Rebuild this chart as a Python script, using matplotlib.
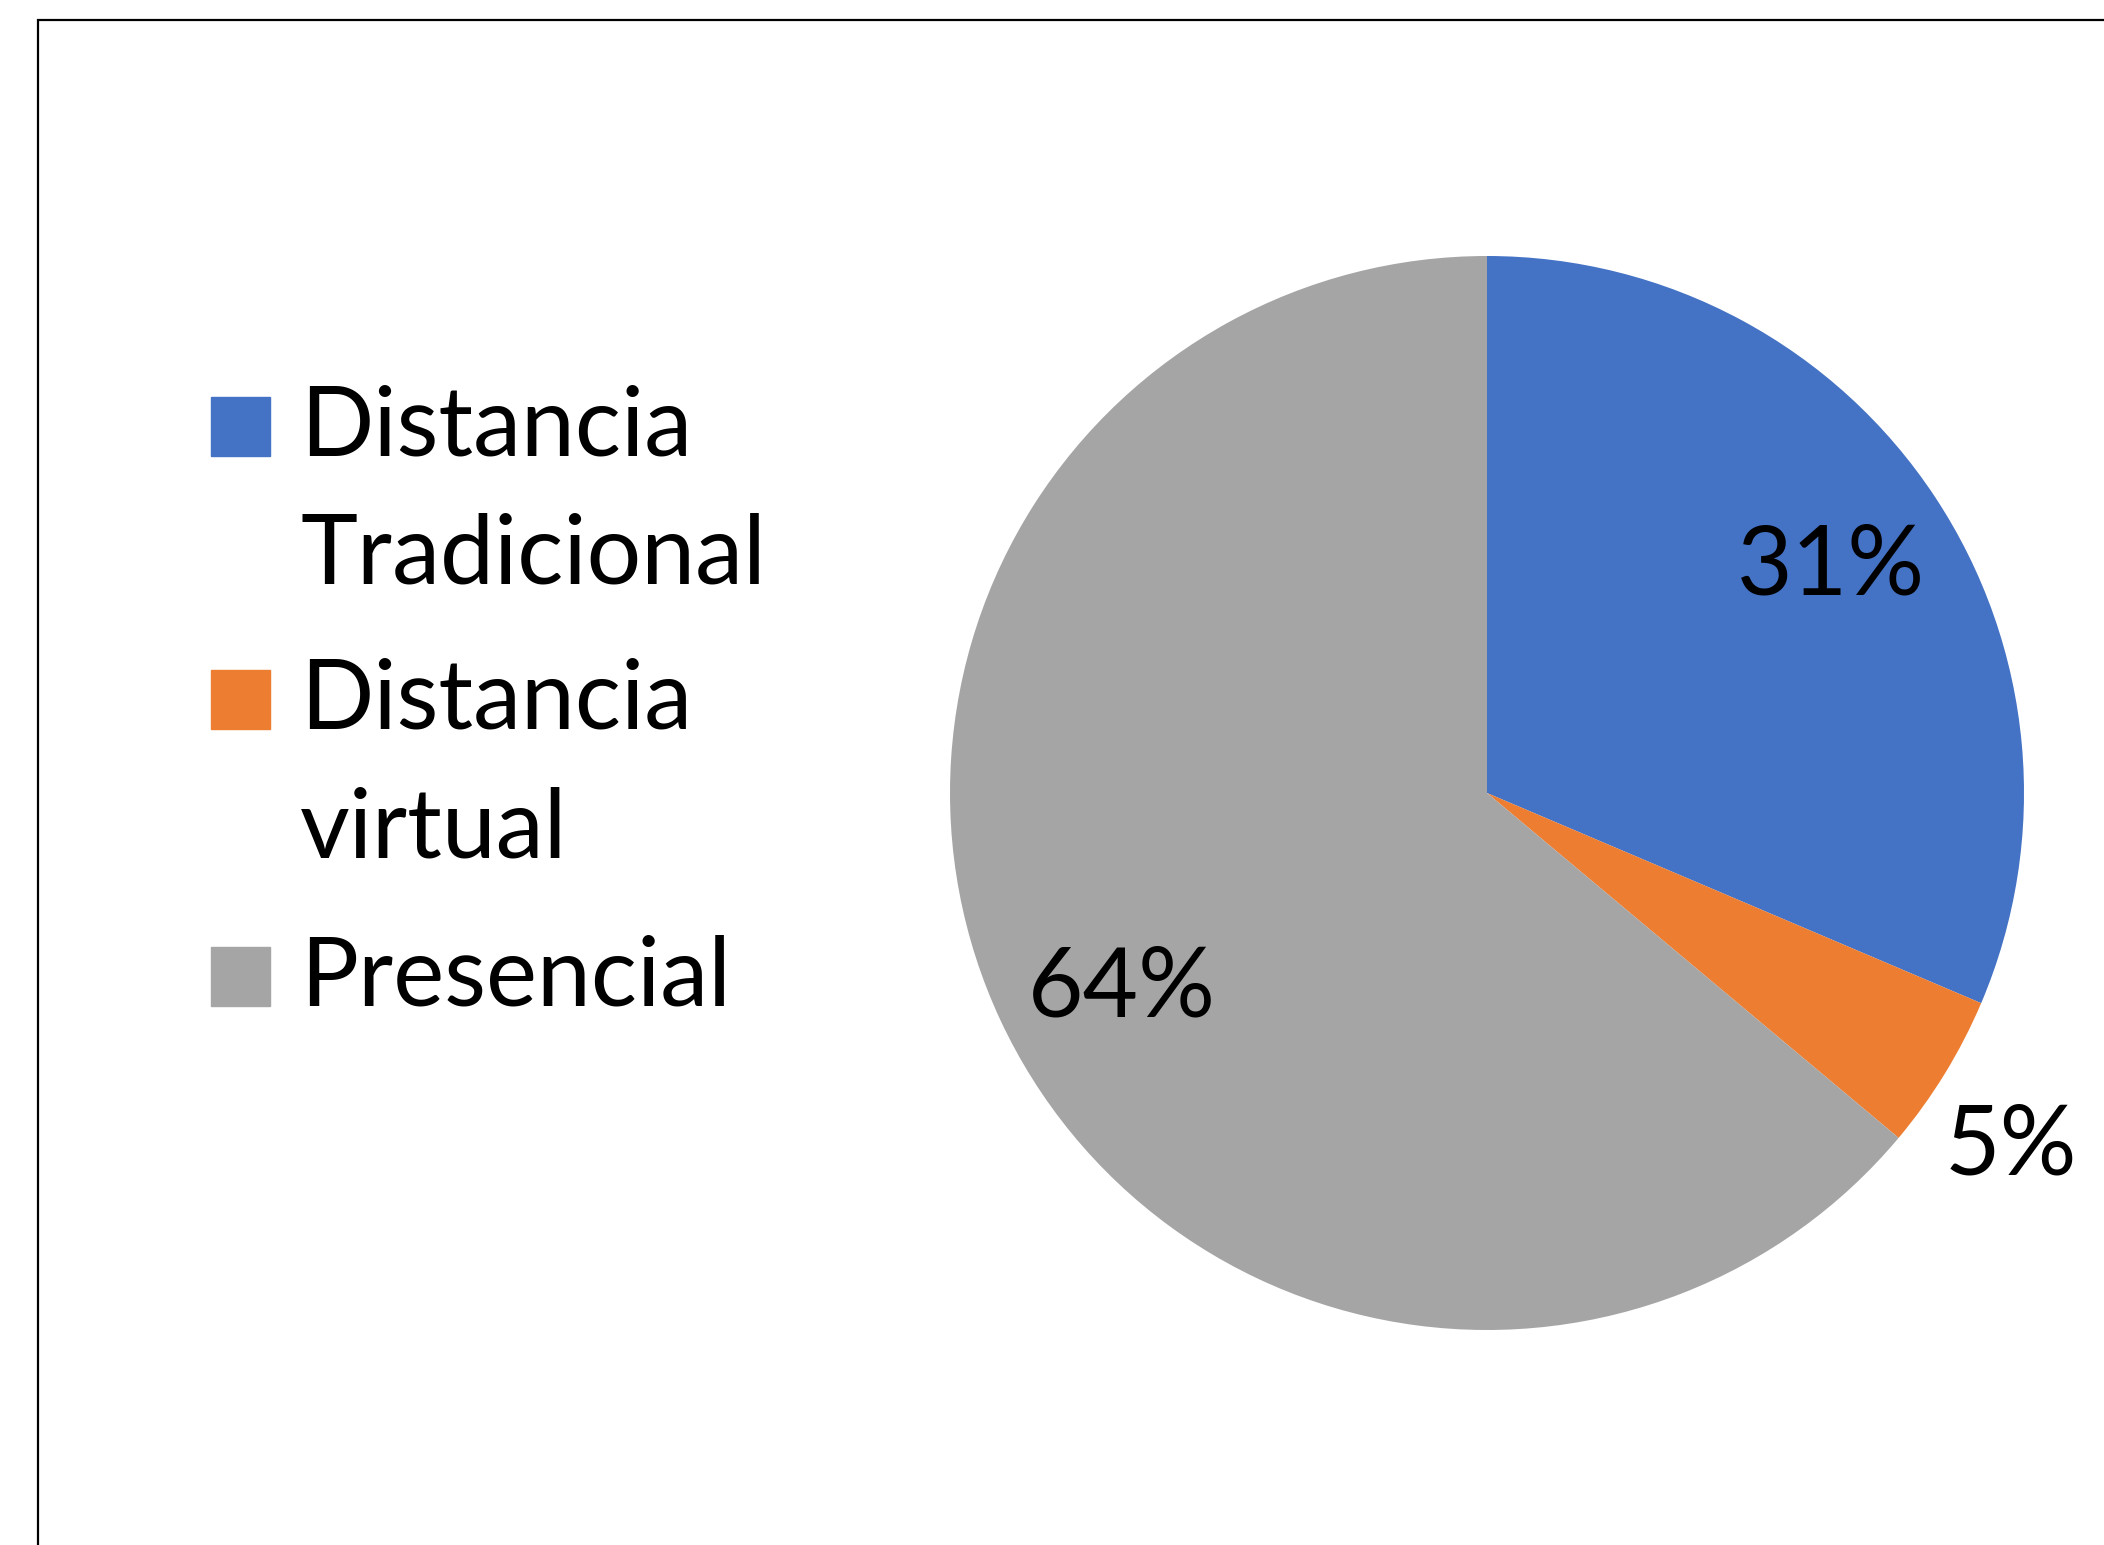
import matplotlib.pyplot as plt
from matplotlib.patches import Rectangle

plt.rcParams['font.family'] = ['Lato', 'DejaVu Sans']

labels = ["Distancia Tradicional", "Distancia virtual", "Presencial"]
legend_lines = [["Distancia", "Tradicional"], ["Distancia", "virtual"], ["Presencial"]]
values = [31.4, 4.7, 63.9]
colors = ["#4472C4", "#ED7D31", "#A5A5A5"]

W, H = 2104, 1545
fig = plt.figure(figsize=(W / 100, H / 100), dpi=100)

# chart border (cut off on the right and bottom)
fig.patches.append(Rectangle((38 / W, -0.1), 1.2, 1 - 20 / H + 0.1,
                             transform=fig.transFigure, fill=False,
                             edgecolor="black", linewidth=1.6))

# pie
cx, cy, r = 1487, 793, 537
ax = fig.add_axes([(cx - r) / W, (H - cy - r) / H, 2 * r / W, 2 * r / H])
wedges, texts, autotexts = ax.pie(values, colors=colors, startangle=90,
                                  counterclock=False, autopct="%.0f%%",
                                  pctdistance=0.77,
                                  textprops={"fontsize": 69, "color": "black"})
ax.set_xlim(-1, 1)
ax.set_ylim(-1, 1)
ax.set_aspect("equal")
ax.axis("off")

# label placement as in the Excel chart (small slice label outside)
autotexts[0].set_position((0.64, 0.42))
autotexts[1].set_position((0.975, -0.66))
autotexts[2].set_position((-0.68, -0.365))

# legend drawn by hand, Excel style
first_baselines = [456, 729, 1006]
sq = 59
for lines, color, base in zip(legend_lines, colors, first_baselines):
    fig.patches.append(Rectangle((211 / W, (H - base) / H), sq / W, sq / H,
                                 transform=fig.transFigure, color=color))
    for i, line in enumerate(lines):
        fig.text(300 / W, (H - base - i * 128) / H, line, fontsize=69.5,
                 va="baseline", ha="left")

fig.savefig("out.png", dpi=100)
